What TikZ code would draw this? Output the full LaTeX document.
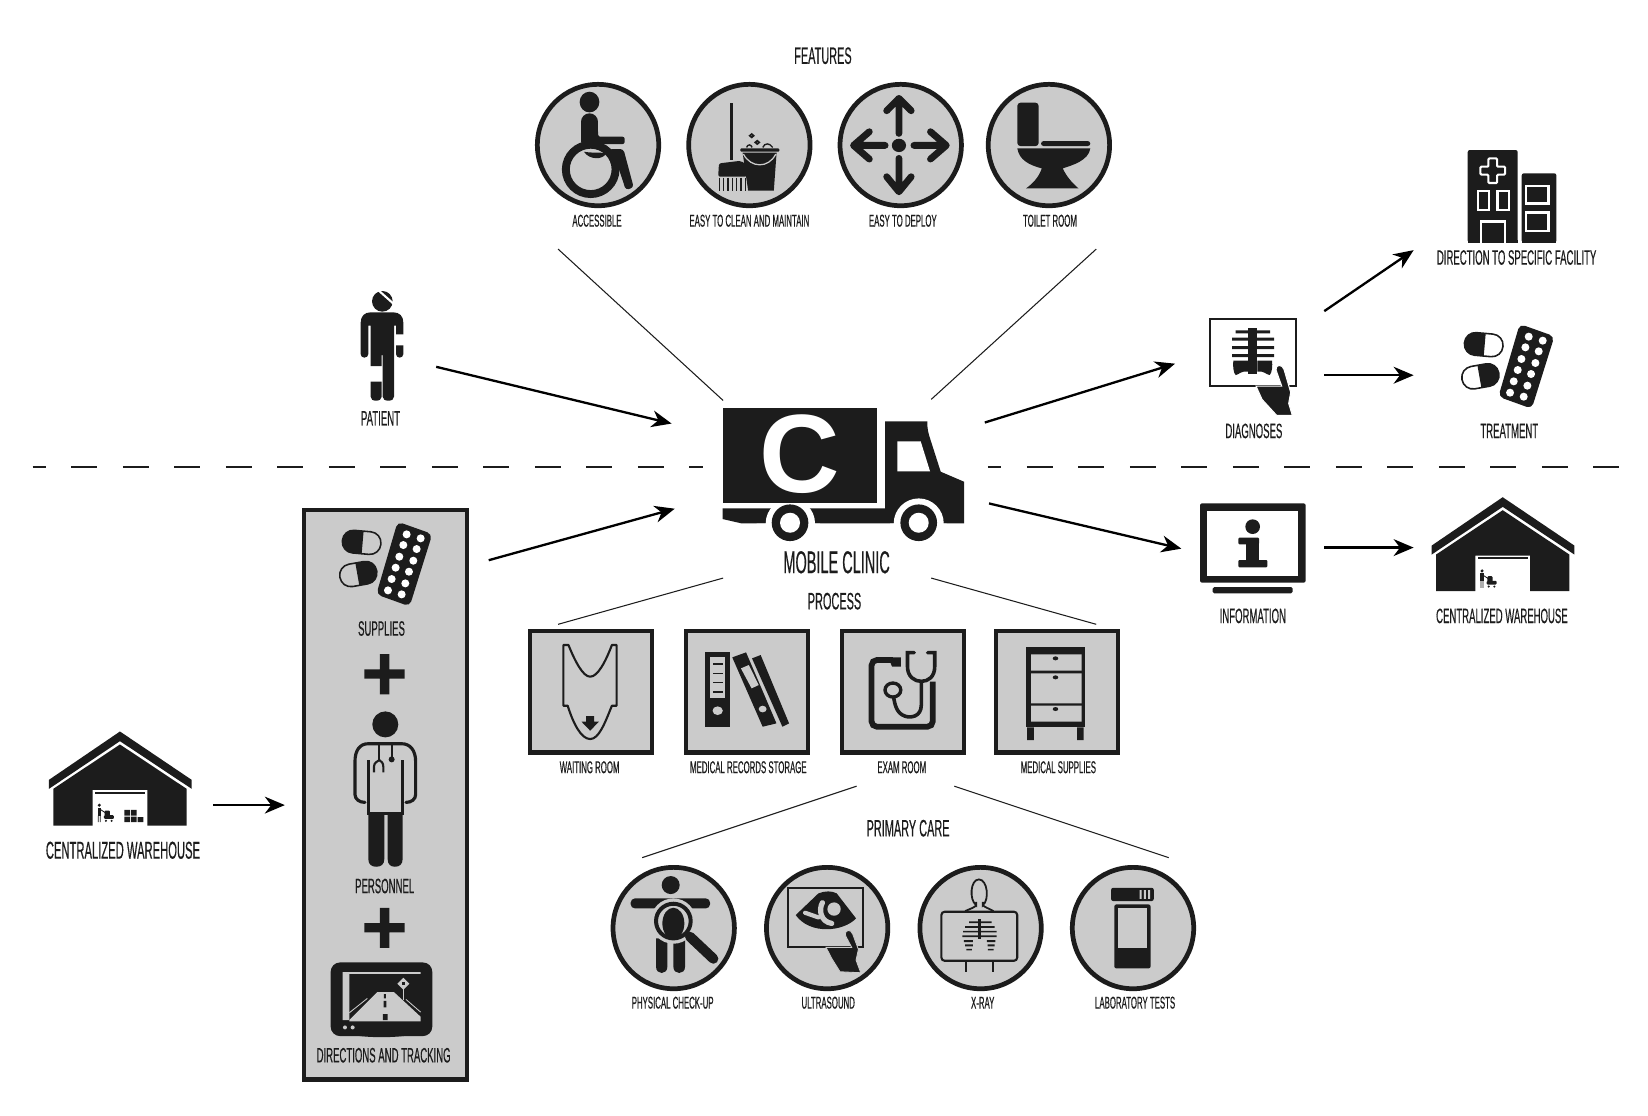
\documentclass[tikz,border=0pt]{standalone}
\usepackage{fontspec}
\setmainfont{Liberation Sans}
\newfontfamily\labelfont[FakeStretch=0.46,FakeBold=0.4]{Liberation Sans}
\usetikzlibrary{arrows.meta}
\definecolor{ink}{HTML}{1C1C1C}
\definecolor{panelgrey}{HTML}{CBCBCB}
\tikzset{
	iconcircle/.style={circle,draw=ink,fill=panelgrey,line width=4.5pt,minimum size=115.5pt,inner sep=0pt},
	iconsquare/.style={rectangle,draw=ink,fill=panelgrey,line width=4pt,minimum size=116pt,inner sep=0pt},
	smalllabel/.style={font=\labelfont\fontsize{16.2}{18}\selectfont,text=ink,inner sep=0pt},
	midlabel/.style={font=\labelfont\fontsize{19.8}{22}\selectfont,text=ink,inner sep=0pt},
	biglabel/.style={font=\labelfont\fontsize{22.6}{25}\selectfont,text=ink,inner sep=0pt},
	thinline/.style={ink,line width=1pt},
	flow/.style={black,line width=2.2pt,-{Stealth[length=19pt,width=16pt,inset=6pt]}},
	splitline/.style={ink,line width=1.7pt,dash pattern=on 24.7pt off 24.3pt,dash phase=12.1pt},
	truecrop/.style={scale=0.3172},
	widecrop/.style={xscale=0.3755,yscale=0.3172}
}
\newcommand{\pillsicon}{
	\draw [ink,line width=1.5pt,rounded corners=10.5pt,rotate around={-5:(185,112)}] (127,78) rectangle (243,146);
	\begin{scope}
		\clip [rotate around={-5:(185,112)}] (120,70) rectangle (188,155);
		\fill [ink,rounded corners=10.5pt,rotate around={-5:(185,112)}] (127,78) rectangle (243,146);
	\end{scope}
	\draw [ink,line width=1.5pt,rounded corners=10.5pt,rotate around={10:(175,207)}] (119,173) rectangle (231,241);
	\begin{scope}
		\clip [rotate around={10:(175,207)}] (172,165) rectangle (240,250);
		\fill [ink,rounded corners=10.5pt,rotate around={10:(175,207)}] (119,173) rectangle (231,241);
	\end{scope}
	\fill [ink,rounded corners=5pt] (293,50) -- (397,87) -- (329,304) -- (229,268) -- cycle;
	\foreach \px/\py in {320/88,362/100,310/120,350/132,298/155,340/167,287/188,327/200,275/222,316/235,264/256,305/268}
		\fill [white] (\px,\py) circle [radius=12];
}
\newcommand{\warehouseicon}{
	\fill [ink] (270,33) -- (485,178) -- (485,205) -- (270,62) -- (57,205) -- (57,178) -- cycle;
	\fill [ink] (70,205) -- (270,72) -- (470,205) -- (470,315) -- (352,315) -- (352,208) -- (188,208) -- (188,315) -- (70,315) -- cycle;
	\fill [ink] (195,213) rectangle (345,219);
	\fill [ink] (208,254) circle [radius=5];
	\fill [ink] (203,261) rectangle (213,285);
	\draw [ink,line width=0.8pt] (205,285) -- (205,305) (211,285) -- (211,305) (213,268) -- (228,278);
	\fill [ink,rounded corners=1pt] (224,270) rectangle (240,287);
	\fill [ink,rounded corners=1pt] (222,284) rectangle (252,295);
	\fill [ink] (228,301) circle [radius=3.5] (245,301) circle [radius=3.5];
}
\begin{document}
\begin{tikzpicture}[x=1pt,y=-1pt]
	\useasboundingbox (0,0) rectangle (1568,1061);

	\node [biglabel] (featurestitle) at (783,53) {FEATURES};
	\node [iconcircle] (accessible) at (569,138) {};
	\node [iconcircle] (cleaning) at (713,138) {};
	\node [iconcircle] (deploy) at (857,138) {};
	\node [iconcircle] (toilet) at (998,138) {};
	\node [smalllabel] (accessibletext) at (568,210) {ACCESSIBLE};
	\node [smalllabel] (cleaningtext) at (713,210) {EASY TO CLEAN AND MAINTAIN};
	\node [smalllabel] (deploytext) at (859,210) {EASY TO DEPLOY};
	\node [smalllabel] (toilettext) at (999,210) {TOILET ROOM};

	\node [biglabel] (processtitle) at (794,572) {PROCESS};
	\node [iconsquare] (waiting) at (562,658) {};
	\node [iconsquare] (records) at (711,658) {};
	\node [iconsquare] (exam) at (859,658) {};
	\node [iconsquare] (cabinet) at (1006,658) {};
	\node [smalllabel] (waitingtext) at (561,730) {WAITING ROOM};
	\node [smalllabel] (recordstext) at (712,730) {MEDICAL RECORDS STORAGE};
	\node [smalllabel] (examtext) at (858,730) {EXAM ROOM};
	\node [smalllabel] (cabinettext) at (1007,730) {MEDICAL SUPPLIES};

	\node [biglabel] (caretitle) at (864,788) {PRIMARY CARE};
	\node [iconcircle] (checkup) at (641,883) {};
	\node [iconcircle] (ultrasound) at (787,883) {};
	\node [iconcircle] (xray) at (933,883) {};
	\node [iconcircle] (labtests) at (1078,883) {};
	\node [smalllabel] (checkuptext) at (640,954) {PHYSICAL CHECK-UP};
	\node [smalllabel] (ultrasoundtext) at (788,954) {ULTRASOUND};
	\node [smalllabel] (xraytext) at (935,954) {X-RAY};
	\node [smalllabel] (labteststext) at (1080,954) {LABORATORY TESTS};

	\node [rectangle,draw=ink,fill=panelgrey,line width=4pt,minimum width=155pt,minimum height=542pt,inner sep=0pt] (resources) at (366.5,756) {};
	\node [midlabel] (suppliestext) at (363,598) {SUPPLIES};
	\node [midlabel] (personneltext) at (366,843) {PERSONNEL};
	\node [midlabel] (trackingtext) at (365,1004) {DIRECTIONS AND TRACKING};

	\node [midlabel] (patienttext) at (362,398) {PATIENT};
	\node [midlabel] (diagnosestext) at (1193,410) {DIAGNOSES};
	\node [midlabel] (treatmenttext) at (1436,410) {TREATMENT};
	\node [midlabel] (facilitytext) at (1443,245) {DIRECTION TO SPECIFIC FACILITY};
	\node [midlabel] (informationtext) at (1192,586) {INFORMATION};
	\node [midlabel] (returnwarehousetext) at (1429,586) {CENTRALIZED WAREHOUSE};
	\node [font=\labelfont\fontsize{23.2}{25}\selectfont,text=ink,inner sep=0pt] (warehousetext) at (117,809) {CENTRALIZED WAREHOUSE};
	\node [font=\labelfont\fontsize{30}{32}\selectfont,text=ink,inner sep=0pt] (clinictext) at (796,535) {MOBILE CLINIC};

	\coordinate (lineleftstart) at (31,444);
	\coordinate (lineleftend) at (669,444);
	\coordinate (linerightstart) at (940,444);
	\coordinate (linerightend) at (1540,444);
	\draw [splitline] (lineleftstart)--(lineleftend);
	\draw [splitline] (linerightstart)--(linerightend);

	\coordinate (featureleft) at (531,237);
	\coordinate (truckupleft) at (688,381);
	\coordinate (featureright) at (1043,237);
	\coordinate (truckupright) at (886,380);
	\coordinate (truckdownleft) at (688,550);
	\coordinate (processleft) at (531,594);
	\coordinate (truckdownright) at (886,550);
	\coordinate (processright) at (1043,594);
	\coordinate (examleft) at (815,748);
	\coordinate (careleft) at (611,816);
	\coordinate (examright) at (908,748);
	\coordinate (careright) at (1112,816);
	\draw [thinline] (featureleft)--(truckupleft);
	\draw [thinline] (featureright)--(truckupright);
	\draw [thinline] (truckdownleft)--(processleft);
	\draw [thinline] (truckdownright)--(processright);
	\draw [thinline] (examleft)--(careleft);
	\draw [thinline] (examright)--(careright);

	\coordinate (patientout) at (415,349);
	\coordinate (patientin) at (639,403);
	\coordinate (resourcesout) at (465,533);
	\coordinate (resourcesin) at (642,484);
	\coordinate (diagnosesin) at (1118,346);
	\coordinate (truckoutup) at (937,402);
	\coordinate (truckoutdown) at (941,479);
	\coordinate (informationin) at (1124,522);
	\coordinate (diagnosesoutup) at (1260,296);
	\coordinate (facilityin) at (1345,238);
	\coordinate (diagnosesout) at (1260,357);
	\coordinate (treatmentin) at (1345,357);
	\coordinate (informationout) at (1260,521);
	\coordinate (returnin) at (1345,521);
	\coordinate (warehouseout) at (203,766);
	\coordinate (panelin) at (271,766);
	\draw [flow] (patientout)--(patientin);
	\draw [flow] (resourcesout)--(resourcesin);
	\draw [flow] (truckoutup)--(diagnosesin);
	\draw [flow] (truckoutdown)--(informationin);
	\draw [flow] (diagnosesoutup)--(facilityin);
	\draw [flow] (diagnosesout)--(treatmentin);
	\draw [flow] (informationout)--(returnin);
	\draw [flow] (warehouseout)--(panelin);

	\begin{scope}[shift={(647,361.6)},truecrop]
		\fill [ink] (128,385) -- (615,385) -- (615,124) -- (742,124) .. controls (741,145) and (745,160) .. (750,175) -- (782,275) -- (852,305) -- (852,430) -- (640,430) -- (185,430) -- (128,417) -- cycle;
		\fill [white] (331,430) circle [radius=74] (716,430) circle [radius=75];
		\fill [white] (230,431) rectangle (420,470) (630,431) rectangle (800,470);
		\fill [ink] (128,85) rectangle (590,368);
		\fill [white] (652,184) -- (722,184) -- (750,274) -- (652,274) -- cycle;
		\fill [ink] (330,428) circle [radius=55] (716,428) circle [radius=55];
		\fill [white] (330,428) circle [radius=30] (716,428) circle [radius=30];
	\end{scope}
	\node [font=\bfseries\fontsize{106}{106}\selectfont,text=white,inner sep=0pt] (truckmark) at (760.6,432.5) {C};

	\begin{scope}[shift={(323.5,266.4)},truecrop]
		\fill [ink] (127,64) circle [radius=31];
		\draw [white,line width=2pt] (112,28) -- (166,76);
		\fill [ink] (62,222) -- (62,128) .. controls (62,108) and (74,97) .. (92,97) -- (160,97) .. controls (178,97) and (190,108) .. (190,128) -- (190,163) -- (168,163) -- (168,137) -- (162,137) -- (162,350) .. controls (162,358) and (155,362) .. (145,362) .. controls (135,362) and (128,358) .. (128,350) -- (128,225) -- (125,225) -- (125,258) -- (92,258) -- (92,137) -- (85,137) -- (85,222) .. controls (85,228) and (80,233) .. (73,233) .. controls (66,233) and (62,228) .. (62,222) -- cycle;
		\fill [ink] (168,196) -- (190,196) -- (190,222) .. controls (190,228) and (185,233) .. (179,233) .. controls (173,233) and (168,228) .. (168,222) -- cycle;
		\fill [ink] (92,305) -- (125,305) -- (125,350) .. controls (125,358) and (118,362) .. (108,362) .. controls (98,362) and (92,358) .. (92,350) -- cycle;
	\end{scope}

	\begin{scope}[shift={(28.5,685.5)},truecrop]
		\warehouseicon
		\fill [ink] (283,268) rectangle (300,285) (303,268) rectangle (320,285) (283,288) rectangle (300,305) (303,288) rectangle (320,305) (323,290) rectangle (340,305);
	\end{scope}
	\begin{scope}[shift={(1344.1,462.6)},truecrop]
		\warehouseicon
	\end{scope}

	\begin{scope}[shift={(285.4,480.5)},truecrop]
		\pillsicon
	\end{scope}
	\begin{scope}[shift={(1353,292.4)},truecrop]
		\pillsicon
	\end{scope}

	\begin{scope}[shift={(285.4,480.5)},truecrop]
		\fill [ink] (240,447) rectangle (268,568) (193,493) rectangle (314,521);
		\fill [ink] (240,1208) rectangle (268,1328) (193,1254) rectangle (314,1282);
		\fill [ink] (256,658) circle [radius=39];
		\draw [ink,line width=3pt,line cap=round] (195,892) .. controls (178,892) and (165,882) .. (165,868) -- (165,770) .. controls (165,735) and (180,716) .. (205,716) -- (305,716) .. controls (330,716) and (347,735) .. (347,770) -- (347,868) .. controls (347,882) and (335,892) .. (318,892);
		\draw [ink,line width=3pt] (205,765) -- (205,925) -- (308,925) -- (308,765);
		\draw [ink,line width=2pt] (238,720) -- (238,765) (275,720) -- (275,762);
		\draw [ink,line width=2pt] (222,802) -- (222,785) .. controls (222,772) and (232,770) .. (238,765) .. controls (244,770) and (250,772) .. (250,785) -- (250,802);
		\fill [ink] (275,763) circle [radius=9];
		\fill [ink] (205,930) -- (253,930) -- (253,1062) .. controls (253,1078) and (243,1085) .. (229,1085) .. controls (215,1085) and (205,1078) .. (205,1062) -- cycle;
		\fill [ink] (263,930) -- (308,930) -- (308,1062) .. controls (308,1078) and (298,1085) .. (285,1085) .. controls (272,1085) and (263,1078) .. (263,1062) -- cycle;
	\end{scope}

	\begin{scope}[shift={(285.4,751.7)},truecrop]
		\fill [ink,rounded corners=9pt] (92,517) rectangle (397,738);
		\fill [ink] (130,730) .. controls (200,745) and (290,745) .. (360,730) -- cycle;
		\fill [panelgrey] (128,546) -- (362,546) -- (362,551) -- (148,551) -- (148,690) -- (128,690) -- cycle;
		\fill [panelgrey] (148,690) -- (148,694) -- (362,694) -- (362,680) -- (282,606) -- (232,606) -- cycle;
		\fill [ink] (252,612) rectangle (258,625) (251,632) rectangle (259,652) (249,672) rectangle (263,690);
		\draw [panelgrey,line width=0.8pt] (148,668) -- (202,625) (362,666) -- (318,628);
		\draw [panelgrey,line width=0.8pt] (310,596) -- (310,630);
		\fill [panelgrey] (310,563) -- (328,581) -- (310,599) -- (292,581) -- cycle;
		\fill [ink] (306,577) rectangle (315,585);
		\fill [panelgrey] (135,712) circle [radius=6] (158,712) circle [radius=6];
	\end{scope}

	\begin{scope}[shift={(1113.2,133.2)},truecrop]
		\draw [ink,line width=2pt] (119,537) rectangle (378,737);
		\fill [ink] (235,563) rectangle (262,703);
		\fill [ink] (197,571) rectangle (300,580) (186,593) rectangle (312,602) (186,618) rectangle (312,627) (186,642) rectangle (312,651);
		\fill [ink] (190,662) -- (235,662) -- (235,695) .. controls (215,690) and (205,705) .. (197,705) .. controls (190,700) and (188,675) .. (190,662) -- cycle;
		\fill [ink] (262,662) -- (306,662) .. controls (308,675) and (306,700) .. (299,705) .. controls (290,705) and (280,690) .. (262,695) -- cycle;
		\fill [ink,draw=white,line width=1pt] (258,738) -- (276,778) -- (320,826) -- (367,826) -- (356,790) -- (362,757) -- (342,688) .. controls (337,672) and (316,672) .. (318,690) -- (335,738) -- cycle;
	\end{scope}

	\begin{scope}[shift={(1113.2,133.2)},truecrop]
		\fill [ink,rounded corners=2pt] (893,30) rectangle (1043,308);
		\fill [ink] (893,300) rectangle (1043,308);
		\fill [ink,rounded corners=2pt] (1055,100) rectangle (1159,308);
		\fill [ink] (1055,300) rectangle (1159,308);
		\draw [white,line width=2pt,rounded corners=1pt] (955,55) -- (981,55) -- (981,80) -- (1005,80) -- (1005,104) -- (981,104) -- (981,129) -- (955,129) -- (955,104) -- (931,104) -- (931,80) -- (955,80) -- cycle;
		\draw [white,line width=2.2pt] (923,152) rectangle (957,210) (982,152) rectangle (1016,210);
		\draw [white,line width=2.2pt] (932,308) -- (932,244) -- (1004,244) -- (1004,308);
		\draw [white,line width=2.2pt] (1068,137) rectangle (1135,190) (1068,217) rectangle (1135,272);
	\end{scope}

	\begin{scope}[shift={(1122.7,466.2)},truecrop]
		\fill [ink,rounded corners=2pt] (60,40) rectangle (377,278);
		\fill [white] (81,62) rectangle (355,257);
		\fill [ink,rounded corners=1.5pt] (98,291) rectangle (338,310);
		\fill [ink] (218,110) circle [radius=22];
		\fill [ink,rounded corners=1pt] (175,143) rectangle (237,163);
		\fill [ink] (197,150) rectangle (237,215);
		\fill [ink,rounded corners=1pt] (175,210) rectangle (262,232);
	\end{scope}

	\begin{scope}[shift={(494.8,38.1)},widecrop]
		\fill [ink] (176,186) ellipse [x radius=25,y radius=31];
		\draw [ink,line width=16pt,line cap=round] (176,245) -- (176,285);
		\fill [ink,rounded corners=2pt] (155,270) -- (198,270) -- (198,290) -- (265,290) -- (265,312) -- (155,312) -- cycle;
		\fill [ink] (162,335) .. controls (180,340) and (200,335) .. (218,340) .. controls (210,360) and (175,360) .. (162,335) -- cycle;
		\draw [ink,line width=7.5pt] (179,388) ellipse [x radius=63,y radius=74];
		\fill [ink,rounded corners=3pt] (225,327) -- (262,327) -- (288,442) -- (268,450) -- (250,385) -- cycle;
		\draw [ink,line width=3.6pt] (536,190) -- (536,360);
		\fill [ink,rounded corners=2pt] (502,410) -- (504,370) -- (560,362) -- (575,376) -- (575,410) -- cycle;
		\foreach \bx in {505,516,527,538,549,560,571}
			\draw [ink,line width=1.4pt] (\bx,413) -- (\bx,452);
		\fill [ink,rounded corners=1pt] (558,325) rectangle (657,335);
		\fill [ink] (564,338) -- (650,338) -- (643,452) -- (578,452) -- cycle;
		\draw [panelgrey,line width=1.2pt] (566,342) .. controls (585,385) and (630,385) .. (648,342);
		\draw [ink,line width=1.6pt] (587,287) circle [radius=5] (601,307) circle [radius=5];
		\draw [ink,line width=1.3pt] (574,322) .. controls (577,312) and (585,312) .. (588,322) (615,322) .. controls (620,308) and (632,308) .. (640,322);
		\fill [ink] (960,316) ellipse [x radius=18,y radius=20];
		\draw [ink,line width=6.5pt,line cap=round,line join=round] (960,280) -- (960,180) (929,212) -- (960,175) -- (991,212);
		\draw [ink,line width=6.5pt,line cap=round,line join=round] (960,355) -- (960,450) (929,410) -- (960,455) -- (991,410);
		\draw [ink,line width=6.5pt,line cap=round,line join=round] (925,316) -- (850,316) (885,275) -- (845,316) -- (885,357);
		\draw [ink,line width=6.5pt,line cap=round,line join=round] (998,316) -- (1075,316) (1040,275) -- (1080,316) -- (1040,357);
		\fill [ink,rounded corners=3pt] (1260,188) rectangle (1314,318);
		\fill [ink,rounded corners=2.5pt] (1320,303) rectangle (1445,318);
		\fill [ink] (1260,325) -- (1445,325) .. controls (1440,362) and (1400,375) .. (1375,385) .. controls (1385,410) and (1400,430) .. (1415,445) -- (1282,445) .. controls (1300,430) and (1315,410) .. (1322,385) .. controls (1290,375) and (1265,360) .. (1260,325) -- cycle;
	\end{scope}

	\begin{scope}[shift={(485.3,580.4)},widecrop]
		\draw [ink,line width=2pt,line join=round] (135,105) -- (148,105) .. controls (165,155) and (185,200) .. (203,200) .. controls (222,200) and (242,155) .. (258,105) -- (270,105) -- (270,287) -- (258,287) .. controls (240,340) and (225,387) .. (203,387) .. controls (180,387) and (160,340) .. (146,287) -- (135,287) -- cycle;
		\fill [ink] (193,318) -- (213,318) -- (213,335) -- (225,335) -- (203,362) -- (181,335) -- (193,335) -- cycle;
		\fill [ink] (493,125) rectangle (558,352);
		\fill [panelgrey] (507,140) rectangle (545,265);
		\foreach \ly in {160,188,216,244}
			\fill [ink] (513,\ly) rectangle (540,\ly+4);
		\fill [panelgrey] (526,302) circle [radius=13];
		\fill [ink] (563,142) -- (598,127) -- (675,340) -- (640,350) -- cycle;
		\fill [ink] (613,145) -- (635,135) -- (707,340) -- (690,350) -- cycle;
		\fill [panelgrey] (585,175) -- (605,165) -- (630,225) -- (612,235) -- cycle;
		\fill [panelgrey] (640,297) circle [radius=10];
		\draw [ink,line width=5.5pt,rounded corners=5pt] (970,150) -- (916,150) -- (916,350) -- (1071,350) -- (1071,215);
		\fill [ink] (958,142) -- (990,142) -- (990,170) -- (968,170) -- cycle;
		\fill [panelgrey] (990,120) rectangle (1000,180);
		\draw [ink,line width=3.4pt,line cap=round] (1024,128) -- (1007,128) -- (1007,170) .. controls (1007,200) and (1025,214) .. (1042,214) .. controls (1060,214) and (1076,200) .. (1076,170) -- (1076,128) -- (1058,128);
		\draw [ink,line width=3.4pt] (1042,214) -- (1042,285) .. controls (1042,320) and (1015,325) .. (1000,318) .. controls (980,310) and (975,285) .. (972,262);
		\draw [ink,line width=3.2pt] (970,240) ellipse [x radius=20,y radius=21];
		\fill [ink] (1307,112) rectangle (1458,352);
		\fill [panelgrey] (1320,133) rectangle (1448,182) (1320,190) rectangle (1448,280) (1320,287) rectangle (1448,335);
		\fill [ink] (1382,145) ellipse [x radius=7,y radius=6] (1382,202) ellipse [x radius=7,y radius=6] (1382,297) ellipse [x radius=7,y radius=6];
		\fill [ink] (1310,352) rectangle (1327,390) (1437,352) rectangle (1453,390);
	\end{scope}

	\begin{scope}[shift={(580.4,818.3)},truecrop]
		\fill [ink] (182,75) circle [radius=27];
		\fill [ink,rounded corners=4pt] (62,115) rectangle (300,145);
		\fill [ink] (138,235) -- (172,235) -- (172,320) .. controls (172,345) and (138,345) .. (138,320) -- cycle;
		\fill [ink] (190,235) -- (225,235) -- (225,320) .. controls (225,345) and (190,345) .. (190,320) -- cycle;
		\fill [panelgrey] (190,183) circle [radius=68];
		\draw [ink,line width=3.8pt] (190,183) circle [radius=52];
		\fill [ink] (190,190) ellipse [x radius=33,y radius=47];
		\draw [ink,line width=9.5pt,line cap=round] (240,230) -- (310,296);
		\draw [ink,line width=2pt] (533,85) rectangle (760,260);
		\fill [ink] (557,165) -- (625,100) .. controls (645,92) and (665,92) .. (680,100) -- (738,175) .. controls (700,215) and (600,225) .. (557,165) -- cycle;
		\fill [panelgrey] (672,147) circle [radius=20];
		\draw [panelgrey,line width=5pt,line cap=round] (637,128) .. controls (625,150) and (632,185) .. (665,190);
		\draw [panelgrey,line width=4pt,line cap=round] (585,158) -- (625,172);
		\fill [ink,draw=panelgrey,line width=0.8pt] (648,262) -- (665,295) -- (690,335) -- (752,338) -- (738,300) -- (745,268) -- (728,222) .. controls (722,205) and (702,208) .. (707,228) -- (725,262) -- cycle;
	\end{scope}

	\begin{scope}[shift={(570.9,808.8)},widecrop]
		\draw [ink,line width=1.7pt] (953,155) -- (953,165) .. controls (935,150) and (938,88) .. (960,88) .. controls (982,88) and (987,150) .. (970,165) -- (970,155);
		\draw [ink,line width=1.7pt] (925,183) .. controls (940,175) and (950,172) .. (953,165) (970,165) .. controls (975,172) and (985,175) .. (997,183);
		\draw [ink,line width=2pt,rounded corners=3pt] (865,185) rectangle (1057,332);
		\fill [ink] (958,208) rectangle (965,268);
		\fill [ink] (935,214) rectangle (992,219) (925,228) rectangle (1000,233) (920,242) rectangle (1005,247) (918,256) rectangle (1005,261) (922,270) rectangle (945,276) (980,270) rectangle (1002,276) (925,283) rectangle (945,289) (982,283) rectangle (1000,289) (928,296) rectangle (942,301) (983,296) rectangle (997,301);
		\draw [ink,line width=1.7pt] (928,333) -- (928,366) (995,333) -- (995,366);
		\fill [ink,rounded corners=2pt] (1295,113) rectangle (1403,153);
		\fill [panelgrey] (1367,120) rectangle (1372,146) (1378,120) rectangle (1383,146) (1389,120) rectangle (1394,146);
		\fill [ink,rounded corners=2pt] (1303,163) rectangle (1395,355);
		\fill [panelgrey] (1313,175) rectangle (1385,293);
	\end{scope}
\end{tikzpicture}
\end{document}
